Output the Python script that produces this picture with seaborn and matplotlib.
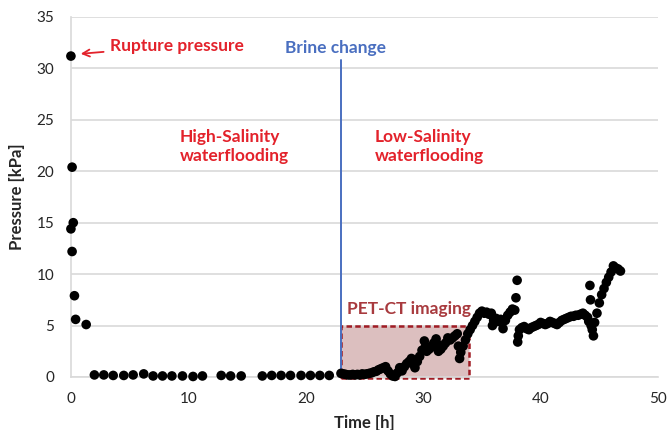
import matplotlib
matplotlib.use("Agg")
import matplotlib.pyplot as plt
import seaborn as sns
import pandas as pd
from matplotlib.patches import Rectangle

# ---- data ----
early_time = [0.0, 0.1, 0.2, 0.0, 0.1, 0.3, 0.4, 1.3]
early_pressure = [31.2, 20.4, 15.0, 14.4, 12.2, 7.9, 5.6, 5.1]

base_time = [2.0, 2.8, 3.6, 4.5, 5.3, 6.2, 7.0, 7.8, 8.6, 9.5, 10.4, 11.2,
             12.8, 13.6, 14.5, 16.3, 17.1, 17.9, 18.7, 19.6, 20.4, 21.2, 22.0]
base_pressure = [0.2, 0.2, 0.15, 0.15, 0.2, 0.3, 0.1, 0.1, 0.1, 0.1, 0.05, 0.1,
                 0.15, 0.1, 0.1, 0.1, 0.15, 0.15, 0.15, 0.15, 0.15, 0.15, 0.15]

dense_time = [23.0, 23.2, 23.4, 23.6, 23.8, 24.0, 24.2, 24.4, 24.6, 24.8,
              25.0, 25.2, 25.4, 25.6, 25.8, 26.0, 26.2, 26.4, 26.6, 26.8,
              27.0, 27.2, 27.4, 27.6, 27.8, 28.0, 28.2, 28.4, 28.6, 28.8,
              29.0, 29.2, 29.3, 29.5, 29.7, 29.9, 30.1, 30.2, 30.3, 30.5,
              30.7, 30.9, 31.1, 31.2, 31.3, 31.5, 31.7, 31.9, 32.1, 32.3,
              32.5, 32.7, 32.9, 33.0, 33.1, 33.2, 33.4, 33.6, 33.8, 34.0,
              34.2, 34.4, 34.6, 34.8, 35.0, 35.2, 35.4, 35.6, 35.8, 35.9,
              36.0, 36.2, 36.4, 36.6, 36.8, 37.0, 37.2, 37.4, 37.6, 37.8,
              37.9, 38.0, 38.05, 38.1, 38.2, 38.4, 38.6, 38.8, 39.0, 39.2,
              39.4, 39.6, 39.8, 40.0, 40.2, 40.4, 40.6, 40.8, 41.0, 41.2,
              41.4, 41.6, 41.8, 42.0, 42.2, 42.4, 42.6, 42.8, 43.0, 43.2,
              43.4, 43.6, 43.8, 44.0, 44.1, 44.2, 44.25, 44.3, 44.4, 44.5,
              44.6, 44.8, 45.0, 45.2, 45.4, 45.6, 45.8, 46.0, 46.2, 46.4,
              46.6, 46.8]
dense_pressure = [0.35, 0.3, 0.25, 0.2, 0.2, 0.25, 0.2, 0.25, 0.2, 0.3,
                  0.25, 0.3, 0.35, 0.4, 0.5, 0.55, 0.7, 0.8, 0.9, 1.0,
                  0.6, 0.3, 0.1, 0.05, 0.4, 0.9, 0.6, 1.0, 1.3, 1.5,
                  1.8, 1.2, 0.9, 1.5, 2.0, 2.6, 3.5, 3.0, 2.5, 2.7,
                  2.9, 3.3, 3.7, 3.2, 2.5, 2.7, 3.0, 3.3, 3.8, 3.6,
                  3.8, 4.0, 4.2, 3.0, 1.8, 2.4, 3.0, 3.6, 4.2, 4.6,
                  5.0, 5.4, 5.8, 6.2, 6.4, 6.2, 6.3, 6.1, 6.2, 5.0,
                  5.5, 5.7, 5.4, 5.6, 4.7, 5.5, 6.0, 6.3, 6.6, 6.5,
                  7.7, 9.4, 3.4, 4.0, 4.6, 4.8, 4.9, 4.7, 4.6, 4.8,
                  4.9, 5.0, 5.1, 5.3, 5.2, 5.1, 5.2, 5.4, 5.3, 5.2,
                  5.1, 5.3, 5.5, 5.6, 5.7, 5.8, 5.9, 5.9, 6.0, 6.0,
                  6.1, 6.2, 6.0, 5.8, 5.4, 8.9, 7.5, 5.0, 4.6, 4.0,
                  5.3, 6.2, 7.2, 8.0, 8.6, 9.2, 9.7, 10.2, 10.8, 10.6,
                  10.5, 10.3]

x_ticks = [0, 10, 20, 30, 40, 50]
y_ticks = [0, 5, 10, 15, 20, 25, 30, 35]

df = pd.DataFrame({
    "time": early_time + base_time + dense_time,
    "pressure": early_pressure + base_pressure + dense_pressure,
})

sns.set_theme(style="white")
plt.rcParams["font.family"] = ["Lato", "DejaVu Sans"]

fig = plt.figure(figsize=(6.69, 4.30), dpi=100)
ax = fig.add_axes([0.106, 0.1233, 0.8776, 0.8372])

# PET-CT box
ax.add_patch(Rectangle((23.0, -0.1), 10.9, 5.05, facecolor="#dcbfbf",
                       edgecolor="#a01c24", linestyle=(0, (2.2, 1.3)),
                       linewidth=1.8, zorder=1, clip_on=False))

sns.scatterplot(data=df, x="time", y="pressure", ax=ax, color="black",
                s=48, edgecolor="none", zorder=3, legend=False, clip_on=False)

# brine change line
ax.plot([23.0, 23.0], [0, 30.8], color="#4a6fc0", linewidth=1.4, zorder=2)

ax.set_xlim(0, 50)
ax.set_ylim(0, 35)
ax.set_xticks(x_ticks)
ax.set_yticks(y_ticks)
ax.yaxis.grid(True, color="#d9d9d9", linewidth=1.2)
ax.xaxis.grid(False)
ax.set_axisbelow(True)
for side in ["top", "right"]:
    ax.spines[side].set_visible(False)
for side in ["left", "bottom"]:
    ax.spines[side].set_color("#d9d9d9")
    ax.spines[side].set_linewidth(1.2)
ax.tick_params(axis="both", length=0, labelsize=11, colors="#262626")
ax.tick_params(axis="x", pad=11)
ax.tick_params(axis="y", pad=12)
ax.set_xlabel("Time [h]", fontsize=12, fontweight="bold", color="#262626",
              labelpad=6)
ax.set_ylabel("Pressure [kPa]", fontsize=12, fontweight="bold",
              color="#262626", labelpad=8)

red = "#e3222b"
ax.annotate("Rupture pressure", xy=(0.6, 31.4), xytext=(3.3, 32.2),
            color=red, fontsize=12.5, fontweight="bold", va="center",
            arrowprops=dict(arrowstyle="->", color=red, lw=1.3))
ax.text(22.5, 32.0, "Brine change", color="#4a6fc0", fontsize=12.5,
        fontweight="bold", ha="center", va="center")
ax.text(9.3, 22.4, "High-Salinity\nwaterflooding", color=red, fontsize=12.5,
        fontweight="bold", ha="left", va="center", linespacing=1.25)
ax.text(25.9, 22.4, "Low-Salinity\nwaterflooding", color=red, fontsize=12.5,
        fontweight="bold", ha="left", va="center", linespacing=1.25)
ax.text(23.5, 6.6, "PET-CT imaging", color="#a83a3e", fontsize=12.5,
        fontweight="bold", ha="left", va="center")

fig.savefig("out.png", dpi=100)
